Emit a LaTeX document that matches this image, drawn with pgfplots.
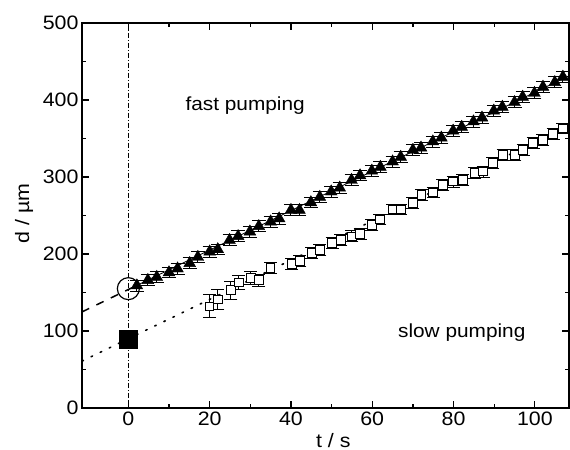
\documentclass[border=0pt]{standalone}
\usepackage{fontspec}
\setmainfont[FakeStretch=1.1]{Liberation Sans}
\usepackage{pgfplots}
\pgfplotsset{compat=1.18}
\begin{document}
\begin{tikzpicture}
\useasboundingbox (-82bp,-42bp) rectangle (488bp,408bp);
\begin{axis}[
  at={(0,0)}, anchor=south west,
  scale only axis, width=487bp, height=385bp,
  xmin=-11.4, xmax=108.4, ymin=0, ymax=500,
  xtick={0,20,...,100}, ytick={0,100,...,500},
  minor x tick num=1, minor y tick num=1,
  tick align=inside, major tick length=7bp, minor tick length=4bp,
  axis line style={line width=1.2bp},
  every tick/.style={black, line width=1.2bp},
  tick label style={font=\fontsize{19.5}{22}\selectfont},
  /pgf/number format/assume math mode=true,
  label style={font=\fontsize{19.5}{22}\selectfont},
  xlabel={t / s}, ylabel={d / µm},
  xlabel style={at={(axis description cs:0.516,0)}, anchor=base, yshift=-39bp},
  ylabel style={at={(axis description cs:-0.119,0.506)}, anchor=center},
  clip=false,
]
% t = 0 reference line
\addplot[black, line width=0.7bp, dash pattern=on 5bp off 2bp on 1bp off 2bp]
  coordinates {(0,0) (0,500)};

% fast pumping data
\addplot[only marks, mark=triangle*, mark size=6.8bp, black,
  error bars/.cd, y dir=both, y fixed=7,
  error bar style={line width=0.9bp, black},
  error mark options={rotate=90, mark size=7bp, line width=0.9bp}]
  coordinates {
  (2.1,159) (4.8,166) (7.0,170) (10.0,176) (12.1,181) (15.1,188) (17.1,196)
  (20.0,203) (22.0,206) (24.9,218) (27.0,223) (29.9,229) (32.1,236)
  (35.0,242) (37.1,246) (40.0,257) (42.1,257) (44.9,267) (47.1,274)
  (49.9,281) (52.0,286) (54.9,296) (57.0,302) (59.9,308) (62.0,313)
  (65.0,320) (67.0,326) (70.0,335) (72.0,338) (74.9,346) (77.0,351)
  (79.9,360) (82.0,365) (84.9,372) (87.0,377) (89.9,386) (92.0,391)
  (95.0,397) (97.0,404) (99.9,409) (102.0,417) (104.9,423) (106.9,430)
  };

% slow pumping data
\addplot[only marks, mark=square*, mark size=4.3bp, black,
  mark options={fill=white, line width=0.9bp},
  error bars/.cd, y dir=both, y explicit,
  error bar style={line width=0.9bp, black},
  error mark options={rotate=90, mark size=6.5bp, line width=0.9bp}]
  coordinates {
  (20.0,132) +- (0,15) (22.0,141) +- (0,13) (25.2,153) +- (0,12)
  (27.2,163) +- (0,9) (30.1,169) +- (0,8) (32.1,166) +- (0,8)
  (35.0,182) +- (0,7) (40.2,187) +- (0,7) (42.2,191) +- (0,7)
  (45.1,201) +- (0,7) (47.1,205) +- (0,7) (50.1,214) +- (0,7)
  (52.3,218) +- (0,7) (55.0,223) +- (0,7) (57.0,226) +- (0,7)
  (59.9,238) +- (0,7) (61.9,245) +- (0,7) (65.0,258) +- (0,7)
  (67.0,258) +- (0,7) (70.0,266) +- (0,7) (72.1,277) +- (0,7)
  (75.0,280) +- (0,7) (77.4,290) +- (0,7) (79.9,294) +- (0,7)
  (82.3,296) +- (0,7) (85.2,305) +- (0,7) (87.3,307) +- (0,7)
  (89.7,318) +- (0,7) (92.2,329) +- (0,7) (95.1,329) +- (0,7)
  (97.1,335) +- (0,7) (99.6,344) +- (0,7) (102.0,348) +- (0,7)
  (104.5,356) +- (0,7) (106.9,363) +- (0,7)
  };

% linear fits
\addplot[black, line width=1.5bp, dash pattern=on 8bp off 8bp]
  coordinates {(-11.4,124.8) (2,159)};
\addplot[black, line width=0.8bp]
  coordinates {(2,159) (108.4,431.5)};
\addplot[black, line width=1.6bp, dash pattern=on 1.6bp off 8.5bp, line cap=round]
  coordinates {(-11.4,60.9) (108.4,366.4)};

% extrapolated intercepts
\addplot[only marks, mark=o, mark size=11bp, black, mark options={line width=1.2bp}]
  coordinates {(0,155)};
\addplot[only marks, mark=square*, mark size=9bp, black]
  coordinates {(0,90)};

\node[anchor=base west, font=\fontsize{19}{22}\selectfont] at (axis cs:13.2,386) {fast pumping};
\node[anchor=base west, font=\fontsize{19}{22}\selectfont] at (axis cs:65.5,91) {slow pumping};
\end{axis}
\end{tikzpicture}
\end{document}
